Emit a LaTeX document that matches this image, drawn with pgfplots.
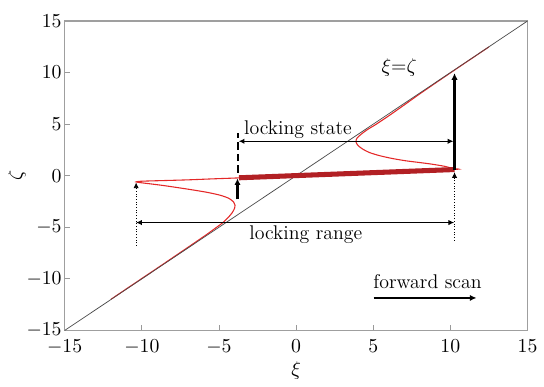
\documentclass[border=0pt]{standalone}
\usepackage{pgfplots}
\pgfplotsset{compat=1.18}
\usetikzlibrary{arrows.meta}
\definecolor{thinred}{RGB}{228,40,40}
\definecolor{thickred}{RGB}{178,32,36}
\begin{document}
\fontsize{11}{13}\selectfont
\begin{tikzpicture}[x=0.5516pt,y=0.5516pt]
\begin{axis}[
  at={(0,0)}, anchor=south west,
  scale only axis, width=256.5pt, height=171.5pt,
  xmin=-15, xmax=15, ymin=-15, ymax=15,
  xtick={-15,-10,...,15}, ytick={-15,-10,...,15},
  xtick pos=left, ytick pos=left, tick align=inside,
  major tick length=2.8pt,
  tick style={gray!80, line width=0.5pt},
  axis line style={gray!75, line width=0.6pt},
  ticklabel style={font=\fontsize{11}{13}\selectfont},
  xticklabel style={yshift=-1.5pt},
  yticklabel style={inner sep=1.5pt},
  xlabel={$\xi$}, ylabel={$\zeta$},
  label style={font=\fontsize{11}{13}\selectfont},
  xlabel style={at={(axis description cs:0.5,0)}, anchor=center, yshift=-22.5pt},
  ylabel style={at={(axis description cs:0,0.5)}, anchor=center, rotate=0, yshift=26.5pt},
  clip=false,
]
% thin red curve
\addplot[thinred, line width=0.6pt, smooth, tension=0.45] coordinates {
(-12,-11.98) (-11,-10.97) (-9,-8.96) (-7.5,-7.44) (-6.5,-6.42)
(-5.8,-5.7) (-5.2,-5.05) (-4.75,-4.55) (-4.4,-4.05) (-4.15,-3.6) (-4.0,-3.2)
(-3.96,-2.85) (-4.05,-2.55) (-4.35,-2.2) (-4.9,-1.9) (-5.7,-1.63) (-6.6,-1.4)
(-7.6,-1.17) (-8.6,-0.95) (-9.5,-0.78) (-10.1,-0.67) (-10.37,-0.6)
(-10.2,-0.55) (-9.6,-0.51) (-8.6,-0.47) (-7.0,-0.4) (-5.5,-0.31) (-3.7,-0.21)
(0,0.01) (5,0.3) (10.27,0.61)
(10.15,0.7) (9.6,0.92) (8.8,1.12) (8.0,1.28) (7.1,1.45) (6.2,1.68) (5.4,1.95)
(4.75,2.25) (4.3,2.6) (4.0,2.95) (3.88,3.3) (3.95,3.65) (4.2,4.0) (4.6,4.45)
(5.2,5.0) (6.0,5.8) (7.0,6.85) (8.0,7.92) (9.5,9.46) (11,10.98) (12.5,12.49)
};
% diagonal xi = zeta
\addplot[black!70, line width=0.4pt] coordinates {(-15,-15) (15,15)};
% thick red locking branch
\addplot[thickred, line width=2.8pt] coordinates {(-3.7,-0.2) (10.27,0.6)};
% annotations
\draw[line width=1.2pt, -{Latex[length=3.6pt,width=3.4pt]}] (axis cs:-3.8,-2.3) -- (axis cs:-3.8,-0.25);
\draw[line width=1.2pt, dash pattern=on 4pt off 2.4pt] (axis cs:-3.77,0.3) -- (axis cs:-3.77,4.1);
\draw[line width=1.3pt, -{Latex[length=3.8pt,width=3.6pt]}] (axis cs:10.27,0.55) -- (axis cs:10.27,9.95);
\draw[line width=0.5pt, densely dotted, -{Latex[length=3.2pt,width=3pt]}] (axis cs:-10.37,-6.8) -- (axis cs:-10.37,-0.65);
\draw[line width=0.5pt, densely dotted, -{Latex[length=3.2pt,width=3pt]}] (axis cs:10.27,-6.3) -- (axis cs:10.27,0.35);
\draw[line width=0.6pt, {Latex[length=3.2pt,width=3pt]}-{Latex[length=3.2pt,width=3pt]}] (axis cs:-3.72,3.34) -- (axis cs:10.2,3.34);
\draw[line width=0.6pt, {Latex[length=3.2pt,width=3pt]}-{Latex[length=3.2pt,width=3pt]}] (axis cs:-10.37,-4.54) -- (axis cs:10.25,-4.54);
\draw[line width=1.1pt, -{Latex[length=3.6pt,width=3.4pt]}] (axis cs:5.02,-11.85) -- (axis cs:11.69,-11.85);
\node[anchor=base, inner sep=0pt] at (axis cs:0.12,3.98) {locking state};
\node[anchor=base, inner sep=0pt] at (axis cs:0.63,-6.15) {locking range};
\node[anchor=base, inner sep=0pt] at (axis cs:8.52,-10.98) {forward scan};
\node[inner sep=0pt] at (axis cs:6.68,10.45) {$\xi{=}\zeta$};
\end{axis}
\path (-65,-51) rectangle (479,332);
\end{tikzpicture}
\end{document}
